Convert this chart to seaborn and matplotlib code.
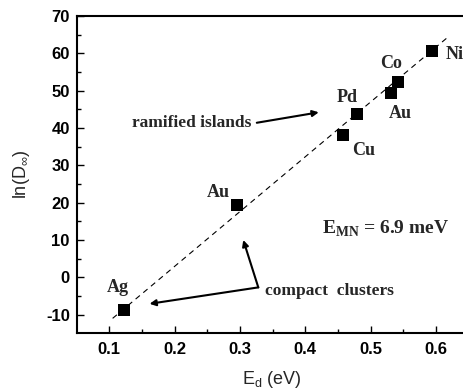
import matplotlib
matplotlib.use("Agg")
import matplotlib.pyplot as plt
import seaborn as sns
import pandas as pd

# Data
metals = ["Ag", "Au", "Cu", "Pd", "Au", "Co", "Ni"]
ed_ev = [0.123, 0.295, 0.4575, 0.479, 0.531, 0.5425, 0.5945]
ln_d = [-8.7, 19.4, 38.0, 43.8, 49.5, 52.2, 60.7]
label_x = [0.113, 0.267, 0.490, 0.464, 0.546, 0.531, 0.628]
label_y = [-2.8, 22.8, 34.0, 48.2, 43.8, 57.2, 59.8]
fit_x = [0.105, 0.618]
fit_y = [-11.0, 64.3]
x_ticks = [0.1, 0.2, 0.3, 0.4, 0.5, 0.6]
y_ticks = [-10, 0, 10, 20, 30, 40, 50, 60, 70]

sns.set_theme(style="ticks")
plt.rcParams['font.family'] = ['Liberation Sans', 'DejaVu Sans']
plt.rcParams['mathtext.fontset'] = 'custom'
plt.rcParams['mathtext.bf'] = 'Liberation Serif:bold'
plt.rcParams['mathtext.rm'] = 'Liberation Sans'

df = pd.DataFrame({"Ed": ed_ev, "lnD": ln_d, "metal": metals})
fit_df = pd.DataFrame({"Ed": fit_x, "lnD": fit_y})

fig = plt.figure(figsize=(4.64, 3.91), dpi=100)
W, H = 464, 391
ax = fig.add_axes([76.7 / W, 1 - 333.3 / H, (467 - 76.7) / W, (333.3 - 16) / H])

sns.lineplot(data=fit_df, x="Ed", y="lnD", ax=ax, color="black", lw=0.8,
             linestyle=(0, (5, 4)))
sns.scatterplot(data=df, x="Ed", y="lnD", ax=ax, marker="s", s=82,
                color="black", edgecolor="black", linewidth=0, zorder=3)

serif = dict(family=['Liberation Serif', 'DejaVu Serif'], fontweight='bold')
for m, lx, ly in zip(metals, label_x, label_y):
    ax.text(lx, ly, m, ha="center", va="center", fontsize=13, **serif)

ax.text(0.318, 41.4, "ramified islands", ha="right", va="center", fontsize=12.5, **serif)
ax.annotate("", xy=(0.4206, 44.2), xytext=(0.3257, 41.4),
            arrowprops=dict(arrowstyle="-|>", color="black", lw=1.5,
                            mutation_scale=9, shrinkA=0, shrinkB=0))
ax.text(0.338, -3.6, "compact  clusters", ha="left", va="center", fontsize=12.5, **serif)
ax.annotate("", xy=(0.1615, -7.1), xytext=(0.328, -2.7),
            arrowprops=dict(arrowstyle="-|>", color="black", lw=1.5,
                            mutation_scale=9, shrinkA=0, shrinkB=0))
ax.annotate("", xy=(0.305, 10.0), xytext=(0.328, -2.7),
            arrowprops=dict(arrowstyle="-|>", color="black", lw=1.5,
                            mutation_scale=9, shrinkA=0, shrinkB=0))
ax.text(0.5235, 13.0, r"E$_{\mathbf{MN}}$ = 6.9 meV", ha="center", va="center",
        fontsize=14, **serif)

ax.set_xlim(0.05, 0.6475)
ax.set_ylim(-15, 70)
ax.set_xticks(x_ticks)
ax.set_yticks(y_ticks)
ax.set_xticklabels([f"{v:.1f}" for v in x_ticks], fontweight="bold", fontsize=12)
ax.set_yticklabels([str(v) for v in y_ticks], fontweight="bold", fontsize=12)
ax.set_xticks([0.15, 0.25, 0.35, 0.45, 0.55], minor=True)
ax.set_yticks([-5, 5, 15, 25, 35, 45, 55, 65], minor=True)
ax.tick_params(which="major", direction="in", length=5, width=1, pad=6, colors="black")
ax.tick_params(which="minor", direction="in", length=3, width=1, colors="black")
ax.tick_params(axis="y", pad=5)
for s in ["left", "bottom", "top"]:
    ax.spines[s].set_visible(True)
    ax.spines[s].set_linewidth(1.5)
    ax.spines[s].set_color("black")
ax.spines["right"].set_visible(False)

ax.set_xlabel(r"E$_\mathregular{d}$ (eV)", fontsize=13, labelpad=9)
ax.set_ylabel(r"ln(D$_\mathregular{\infty}$)", fontsize=13, labelpad=10)

fig.savefig("out.png", dpi=100)
